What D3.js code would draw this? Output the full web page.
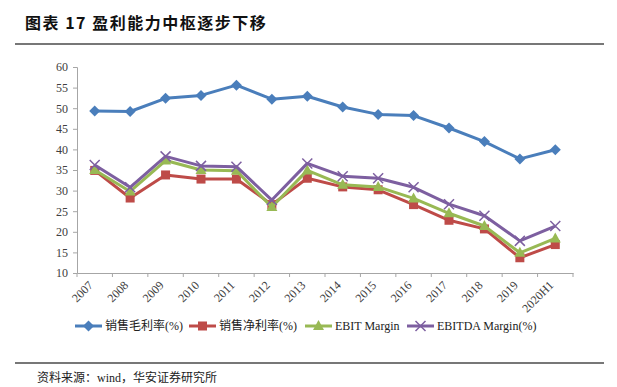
<!DOCTYPE html>
<html>
<head>
<meta charset="utf-8">
<script src="https://cdn.jsdelivr.net/npm/d3@7"></script>
<style>
  body { margin: 0; background: #fff; }
  svg text { font-family: "Liberation Serif", "Noto Sans CJK SC", serif; }
</style>
</head>
<body>
<div id="chart"></div>
<script>
// Data
const years = ["2007", "2008", "2009", "2010", "2011", "2012", "2013", "2014", "2015", "2016", "2017", "2018", "2019", "2020H1"];
const grossMargin = [49.3, 49.2, 52.4, 53.1, 55.6, 52.2, 52.9, 50.3, 48.5, 48.2, 45.2, 41.9, 37.7, 39.9];
const netMargin = [34.9, 28.2, 33.8, 32.8, 32.8, 26.6, 33.0, 30.9, 30.2, 26.6, 22.8, 20.7, 13.7, 16.9];
const ebitMargin = [35.0, 29.8, 37.3, 35.0, 34.8, 26.0, 34.9, 31.4, 30.9, 28.1, 24.5, 21.4, 14.9, 18.4];
const ebitdaMargin = [36.2, 30.8, 38.3, 36.0, 35.8, 27.7, 36.6, 33.5, 33.0, 30.8, 26.7, 23.9, 17.8, 21.4];
const yTicks = [10, 15, 20, 25, 30, 35, 40, 45, 50, 55, 60];

const series = [
    { name: "销售毛利率(%)", values: grossMargin, color: "#4a7ebb", marker: "diamond" },
    { name: "销售净利率(%)", values: netMargin, color: "#be4b48", marker: "square" },
    { name: "EBIT Margin", values: ebitMargin, color: "#98b954", marker: "triangle" },
    { name: "EBITDA Margin(%)", values: ebitdaMargin, color: "#7d5fa0", marker: "cross" }
];

const W = 617, H = 387;
const plot = { left: 77, right: 573, top: 67, bottom: 273 };

const svg = d3.select("#chart").append("svg")
    .attr("width", W)
    .attr("height", H);

// Title + rules
svg.append("text")
    .attr("x", 25).attr("y", 29)
    .style("font-family", "'Noto Sans CJK SC', sans-serif")
    .style("font-weight", "bold")
    .style("font-size", "16px")
    .style("letter-spacing", "1.5px")
    .attr("fill", "#111")
    .text("图表 17 盈利能力中枢逐步下移");
svg.append("line").attr("x1", 15).attr("x2", 604).attr("y1", 44).attr("y2", 44)
    .attr("stroke", "#777").attr("stroke-width", 2);
svg.append("line").attr("x1", 15).attr("x2", 604).attr("y1", 363).attr("y2", 363)
    .attr("stroke", "#777").attr("stroke-width", 2);
svg.append("text")
    .attr("x", 37).attr("y", 382)
    .style("font-size", "12px")
    .attr("fill", "#222")
    .text("资料来源：wind，华安证券研究所");

// Scales
const x = d3.scaleBand().domain(years).range([plot.left, plot.right]);
const y = d3.scaleLinear().domain([10, 60]).range([plot.bottom, plot.top]);

// Y axis
const yAxis = svg.append("g")
    .attr("transform", `translate(${plot.left},0)`)
    .call(d3.axisLeft(y).tickValues(yTicks).tickSize(4).tickPadding(5));
yAxis.select(".domain").attr("stroke", "#a6a6a6");
yAxis.selectAll(".tick line").attr("stroke", "#a6a6a6");
yAxis.selectAll("text").style("font-size", "12px").attr("fill", "#404040");

// X axis with ticks at category boundaries
const xAxis = svg.append("g")
    .attr("transform", `translate(0,${plot.bottom})`)
    .call(d3.axisBottom(x).tickSize(0).tickPadding(0));
xAxis.select(".domain").attr("stroke", "#a6a6a6");
xAxis.selectAll(".tick text")
    .style("font-size", "12px")
    .attr("fill", "#404040")
    .attr("text-anchor", "end")
    .attr("dy", "0.35em")
    .attr("transform", "translate(-4,10) rotate(-45)");
svg.append("g").selectAll("line")
    .data(years.concat(["end"]))
    .enter().append("line")
    .attr("x1", (d, i) => plot.left + i * x.bandwidth())
    .attr("x2", (d, i) => plot.left + i * x.bandwidth())
    .attr("y1", plot.bottom).attr("y2", plot.bottom + 4)
    .attr("stroke", "#a6a6a6");

// Marker drawing
function drawMarker(g, type, color, cx, cy) {
    if (type === "diamond") {
        g.append("path").attr("d", `M${cx},${cy - 5.5}L${cx + 5.5},${cy}L${cx},${cy + 5.5}L${cx - 5.5},${cy}Z`)
            .attr("fill", color);
    } else if (type === "square") {
        g.append("rect").attr("x", cx - 4.5).attr("y", cy - 4.5).attr("width", 9).attr("height", 9)
            .attr("fill", color);
    } else if (type === "triangle") {
        g.append("path").attr("d", `M${cx},${cy - 6}L${cx + 5.5},${cy + 4}L${cx - 5.5},${cy + 4}Z`)
            .attr("fill", color);
    } else {
        g.append("path").attr("d", `M${cx - 5},${cy - 5}L${cx + 5},${cy + 5}M${cx + 5},${cy - 5}L${cx - 5},${cy + 5}`)
            .attr("stroke", color).attr("stroke-width", 1.5).attr("fill", "none");
    }
}

const line = d3.line()
    .x((d, i) => x(years[i]) + x.bandwidth() / 2)
    .y(d => y(d));

series.forEach(s => {
    const g = svg.append("g");
    g.append("path")
        .datum(s.values)
        .attr("d", line)
        .attr("fill", "none")
        .attr("stroke", s.color)
        .attr("stroke-width", 3)
        .attr("stroke-linejoin", "round");
    s.values.forEach((v, i) => drawMarker(g, s.marker, s.color, x(years[i]) + x.bandwidth() / 2, y(v)));
});

// Legend
const legendX = [75, 189, 305, 407];
series.forEach((s, i) => {
    const g = svg.append("g").attr("transform", `translate(${legendX[i]},326)`);
    g.append("line").attr("x1", 0).attr("x2", 27).attr("y1", 0).attr("y2", 0)
        .attr("stroke", s.color).attr("stroke-width", 3);
    drawMarker(g, s.marker, s.color, 13.5, 0);
    g.append("text").attr("x", 30).attr("y", 4)
        .style("font-size", "12px")
        .attr("fill", "#222")
        .text(s.name);
});
</script>
</body>
</html>
